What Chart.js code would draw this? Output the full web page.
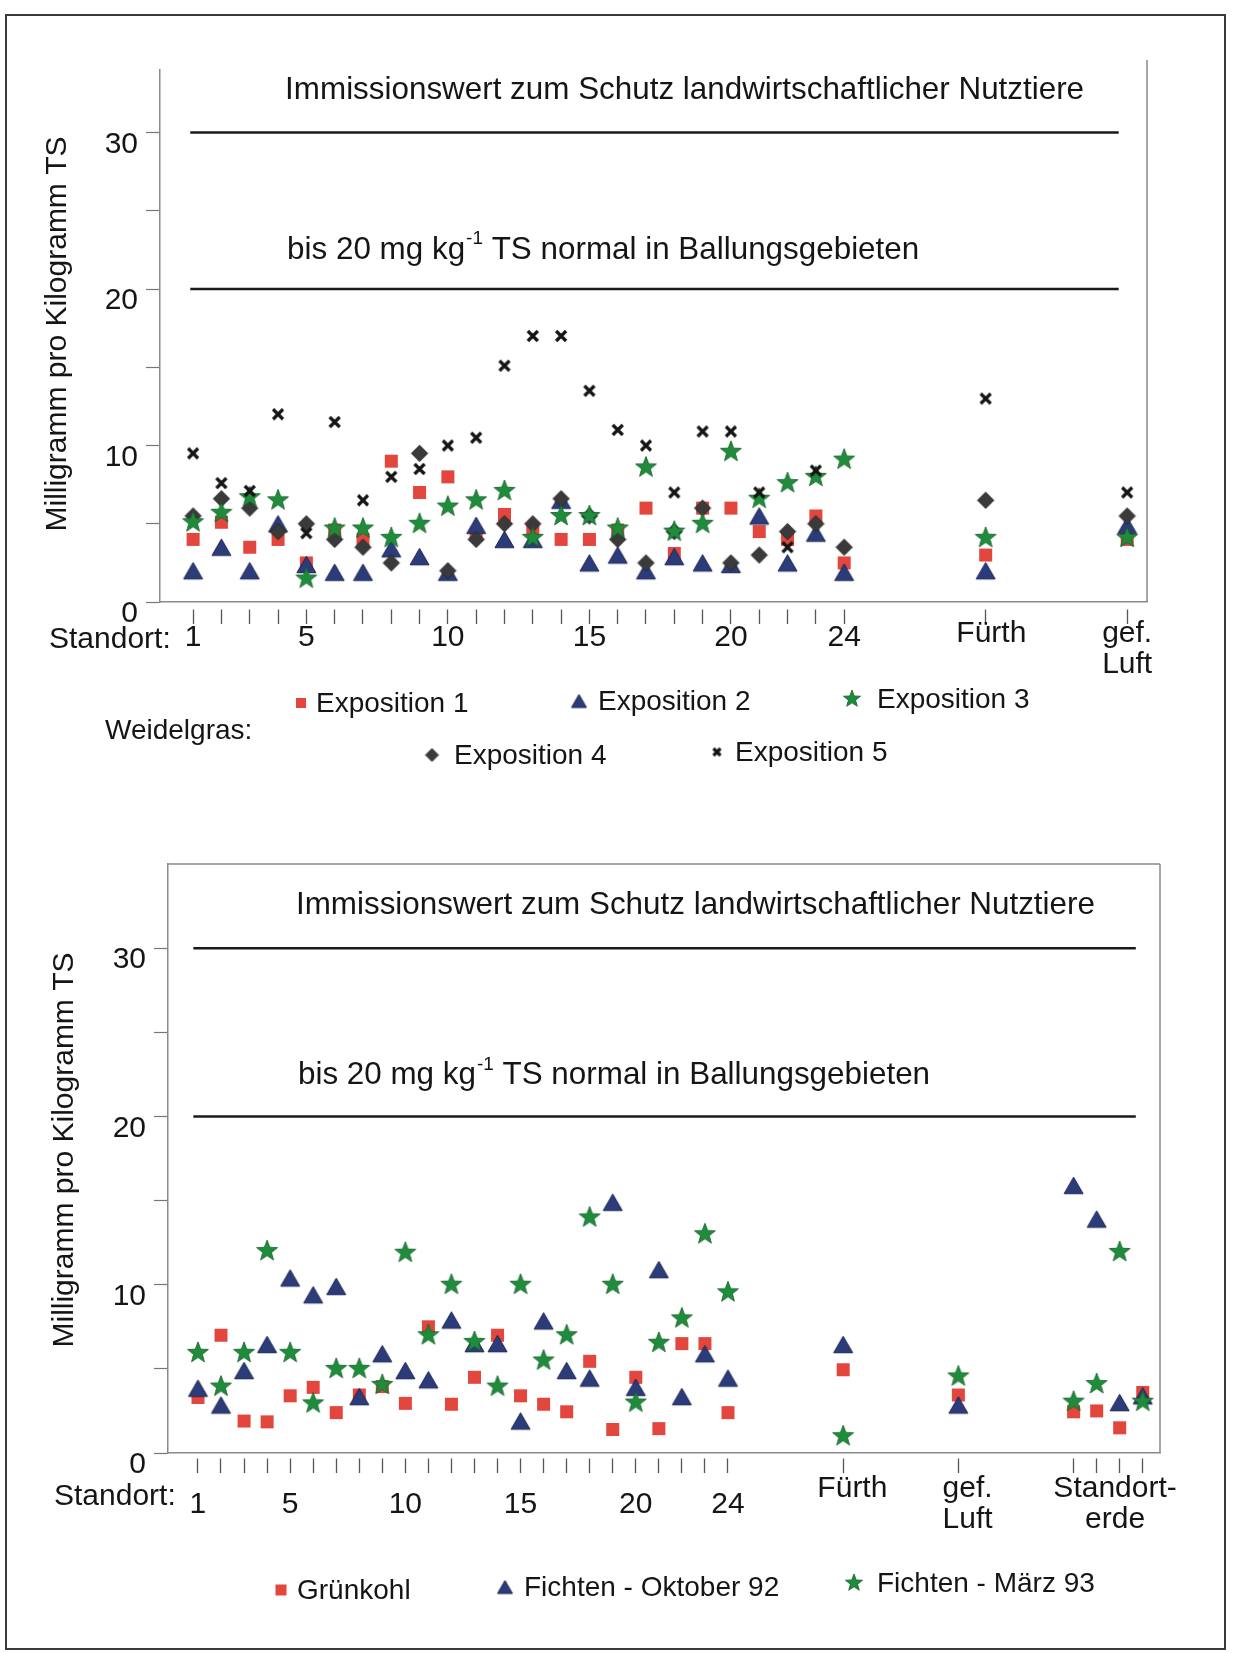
<!DOCTYPE html>
<html lang="de">
<head>
  <meta charset="UTF-8">
  <title>Weidelgras, Grünkohl und Fichten</title>
  <script src="https://cdn.jsdelivr.net/npm/chart.js"></script>
  <style>
    html, body { margin: 0; padding: 0; background: #fff; }
    body { width: 1242px; height: 1653px; position: relative; overflow: hidden; }
    .frame { position: absolute; left: 5px; top: 14px; width: 1221px; height: 1636px; border: 2px solid #3a3a3a; box-sizing: border-box; }
    .box { position: absolute; left: 0; width: 1242px; }
    #topBox { top: 0; height: 800px; }
    #bottomBox { top: 800px; height: 853px; }
  </style>
</head>
<body>
  <div class="frame"></div>
  <div class="box" id="topBox"><canvas id="weidelgrasChart" width="1242" height="800"></canvas></div>
  <div class="box" id="bottomBox"><canvas id="fichtenChart" width="1242" height="853"></canvas></div>
  <script>
    const FONT = '"Liberation Sans", Arial, Helvetica, sans-serif';
    Chart.defaults.font.family = FONT;
    Chart.defaults.color = '#1a1a1a';

    // Weidelgras (oben): Standorte 1-24, Fürth = 29, gef. Luft = 34
    const weidelStandorte = [1, 2, 3, 4, 5, 6, 7, 8, 9, 10, 11, 12, 13, 14, 15, 16, 17, 18, 19, 20, 21, 22, 23, 24, 29, 34];
    const exposition1 = [4.0, 5.1, 3.5, 4.0, 2.5, 4.6, 4.0, 9.0, 7.0, 8.0, 4.3, 5.6, 4.6, 4.0, 4.0, 4.6, 6.0, 3.1, 6.0, 6.0, 4.5, 4.0, 5.5, 2.5, 3.0, 4.0];
    const exposition2 = [2.0, 3.5, 2.0, 5.0, 2.4, 1.9, 1.9, 3.4, 2.9, 1.9, 4.9, 4.0, 4.0, 6.5, 2.5, 3.0, 2.0, 2.9, 2.5, 2.4, 5.5, 2.5, 4.4, 1.9, 2.0, 4.9];
    const exposition3 = [5.1, 5.7, 6.7, 6.5, 1.5, 4.7, 4.7, 4.1, 5.0, 6.1, 6.5, 7.1, 4.1, 5.5, 5.5, 4.7, 8.6, 4.5, 5.0, 9.6, 6.6, 7.6, 8.0, 9.1, 4.1, 4.1];
    const exposition4 = [5.5, 6.6, 6.0, 4.5, 5.0, 4.0, 3.5, 2.5, 9.5, 2.0, 4.0, 5.0, 5.0, 6.6, 5.5, 4.0, 2.5, 4.5, 6.0, 2.5, 3.0, 4.5, 5.0, 3.5, 6.5, 5.5];
    const exposition5 = [9.5, 7.6, 7.1, 12.0, 4.4, 11.5, 6.5, 8.0, 8.5, 10.0, 10.5, 15.1, 17.0, 17.0, 13.5, 11.0, 10.0, 7.0, 10.9, 10.9, 7.0, 3.5, 8.4, null, 13.0, 7.0];

    // Grünkohl / Fichten (unten): Fürth = 29, gef. Luft = 34, Standorterde = 39-42
    const fichtenStandorte = [1, 2, 3, 4, 5, 6, 7, 8, 9, 10, 11, 12, 13, 14, 15, 16, 17, 18, 19, 20, 21, 22, 23, 24, 29, 34, 39, 40, 41, 42];
    const gruenkohl = [3.3, 7.0, 1.9, 1.85, 3.4, 3.9, 2.4, 3.45, 3.95, 2.95, 7.5, 2.9, 4.5, 7.0, 3.4, 2.9, 2.45, 5.45, 1.4, 4.5, 1.45, 6.5, 6.5, 2.4, 4.95, 3.45, 2.45, 2.5, 1.5, 3.6];
    const fichtenOkt92 = [3.85, 2.85, 4.9, 6.45, 10.4, 9.4, 9.9, 3.35, 5.9, 4.9, 4.35, 7.9, 6.5, 6.5, 1.9, 7.85, 4.9, 4.45, 14.9, 3.9, 10.9, 3.35, 5.9, 4.45, 6.45, 2.85, 15.9, 13.9, 3.0, 3.4];
    const fichtenMaerz93 = [5.95, 3.95, 5.95, 12.0, 5.95, 2.95, 5.0, 5.0, 4.05, 11.9, 7.0, 10.0, 6.6, 3.95, 10.0, 5.5, 7.0, 14.0, 10.0, 3.0, 6.55, 8.0, 13.0, 9.55, 1.0, 4.55, 3.05, 4.1, 11.95, 3.05];

    // Achsen
    const yTicks = [0, 5, 10, 15, 20, 25, 30];
    const weidelLabelPos = [1, 5, 10, 15, 20, 24, 29.2, 34];
    const weidelLabelText = ['1', '5', '10', '15', '20', '24', 'Fürth', 'gef.\nLuft'];
    const fichtenTickPos = [1, 2, 3, 4, 5, 6, 7, 8, 9, 10, 11, 12, 13, 14, 15, 16, 17, 18, 19, 20, 21, 22, 23, 24, 29, 34, 39, 40, 41, 42];
    const fichtenLabelPos = [1, 5, 10, 15, 20, 24, 29.4, 34.4, 40.8];
    const fichtenLabelText = ['1', '5', '10', '15', '20', '24', 'Fürth', 'gef.\nLuft', 'Standort-\nerde'];

    // Richtwerte
    const grenzwerte = [30, 20];
    const weidelLinie = [0.9, 33.7];
    const fichtenLinie = [0.8, 41.7];

    const RED = '#e2463c', NAVY = '#2c3c7a', GREEN = '#1f8c3b', GREY = '#3a3a3a', BLACK = '#141414';

    function marker(kind, s) {
      const n = Math.ceil(s) + 6;
      const c = document.createElement('canvas');
      c.width = n; c.height = n;
      const g = c.getContext('2d');
      const m = n / 2;
      g.beginPath();
      if (kind === 'square') {
        g.fillStyle = RED;
        g.fillRect(m - s / 2, m - s / 2, s, s);
      } else if (kind === 'triangle') {
        const h = s * 0.87;
        g.moveTo(m, m - h / 2); g.lineTo(m + s / 2, m + h / 2); g.lineTo(m - s / 2, m + h / 2); g.closePath();
        g.fillStyle = NAVY; g.fill();
        g.strokeStyle = '#1b2452'; g.lineWidth = 1; g.stroke();
      } else if (kind === 'star') {
        for (let k = 0; k < 10; k++) {
          const r = k % 2 ? s * 0.21 : s / 2;
          const a = -Math.PI / 2 + k * Math.PI / 5;
          g.lineTo(m + r * Math.cos(a), m + r * Math.sin(a));
        }
        g.closePath();
        g.fillStyle = GREEN; g.fill();
        g.strokeStyle = '#135f27'; g.lineWidth = 0.8; g.stroke();
      } else if (kind === 'diamond') {
        g.moveTo(m, m - s / 2); g.lineTo(m + s / 2, m); g.lineTo(m, m + s / 2); g.lineTo(m - s / 2, m); g.closePath();
        g.fillStyle = GREY; g.fill();
        g.strokeStyle = '#222'; g.lineWidth = 0.8; g.stroke();
      } else if (kind === 'cross') {
        const d = s / 2;
        g.moveTo(m - d, m - d); g.lineTo(m + d, m + d);
        g.moveTo(m + d, m - d); g.lineTo(m - d, m + d);
        g.strokeStyle = BLACK; g.lineWidth = 3.2; g.stroke();
      }
      return c;
    }

    const pts = (xs, ys) => xs.map((x, i) => ({ x: x, y: ys[i] })).filter(p => p.y !== null);

    function scatterSet(label, xs, ys, icon, order) {
      return { label: label, data: pts(xs, ys), pointStyle: icon, pointRadius: 8, order: order };
    }

    function lineSet(range, value) {
      return {
        type: 'line', label: 'Richtwert ' + value, showLine: true,
        data: [{ x: range[0], y: value }, { x: range[1], y: value }],
        borderColor: '#1a1a1a', borderWidth: 2.5, pointRadius: 0, order: 10
      };
    }

    function drawLabelText(ctx, xs, ys, dx, dy) {
      ctx.font = '31.4px ' + FONT;
      ctx.fillText('Immissionswert zum Schutz landwirtschaftlicher Nutztiere',
        xs.getPixelForValue(1) + dx[0], ys.getPixelForValue(grenzwerte[0]) + dy[0]);
      const x0 = xs.getPixelForValue(1) + dx[1];
      const y0 = ys.getPixelForValue(grenzwerte[1]) + dy[1];
      const a = 'bis 20 mg kg', b = '-1', c = ' TS normal in Ballungsgebieten';
      ctx.fillText(a, x0, y0);
      let w = ctx.measureText(a).width;
      ctx.font = '19px ' + FONT;
      ctx.fillText(b, x0 + w + 1, y0 - 11);
      w += ctx.measureText(b).width + 1;
      ctx.font = '31.4px ' + FONT;
      ctx.fillText(c, x0 + w, y0);
    }

    function makeDecor(cfg) {
      return {
        id: 'decor',
        afterDraw(chart) {
          const ctx = chart.ctx, a = chart.chartArea;
          const xs = chart.scales.x, ys = chart.scales.y;
          ctx.save();
          ctx.strokeStyle = '#8a8a8a';
          ctx.lineWidth = 1.5;
          ctx.beginPath();
          ctx.moveTo(a.right, a.top - cfg.rightOver);
          ctx.lineTo(a.right, a.bottom);
          if (cfg.topBorder) { ctx.moveTo(a.left, a.top); ctx.lineTo(a.right, a.top); }
          ctx.stroke();

          ctx.fillStyle = '#151515';
          ctx.textBaseline = 'middle';
          ctx.textAlign = 'left';
          drawLabelText(ctx, xs, ys, cfg.textDx, cfg.textDy);

          // x-Beschriftung
          ctx.font = '30px ' + FONT;
          ctx.textAlign = 'center';
          cfg.labelPos.forEach((v, i) => {
            const lines = cfg.labelText[i].split('\n');
            const numeric = /^\d+$/.test(lines[0]);
            const y0 = a.bottom + (numeric ? cfg.numDy : cfg.nameDy);
            lines.forEach((t, k) => ctx.fillText(t, xs.getPixelForValue(v), y0 + k * 31));
          });
          ctx.textAlign = 'left';
          ctx.fillText('Standort:', cfg.standort[0], cfg.standort[1]);

          // y-Titel
          ctx.save();
          ctx.translate(cfg.yTitle[0], cfg.yTitle[1]);
          ctx.rotate(-Math.PI / 2);
          ctx.font = '30px ' + FONT;
          ctx.textAlign = 'center';
          ctx.fillText('Milligramm pro Kilogramm TS', 0, 0);
          ctx.restore();

          // Legende
          ctx.font = '28px ' + FONT;
          ctx.textAlign = 'left';
          cfg.legend.forEach(item => {
            const ds = chart.data.datasets[item.ds];
            ctx.drawImage(item.icon, item.mx - item.icon.width / 2, item.my - item.icon.height / 2);
            ctx.fillText(ds.label, item.tx, item.my + 1);
          });
          if (cfg.group) ctx.fillText(cfg.group.text, cfg.group.x, cfg.group.y);
          ctx.restore();
        }
      };
    }

    function axes(xMin, xMax, yMax, tickPos, xHeight, dash) {
      return {
        x: {
          type: 'linear', min: xMin, max: xMax,
          afterBuildTicks: s => { s.ticks = tickPos.map(v => ({ value: v })); },
          afterFit: s => { s.height = xHeight; },
          ticks: { display: false },
          grid: { drawOnChartArea: false, drawTicks: true, tickLength: dash[0] + dash[1], tickBorderDash: [0, dash[0], dash[1], 60], tickColor: '#555', tickWidth: 1.3 },
          border: { color: '#8a8a8a', width: 1.5 }
        },
        y: {
          min: 0, max: yMax,
          afterBuildTicks: s => { s.ticks = yTicks.map(v => ({ value: v })); },
          afterFit: s => { s.width = s.chart.options.layout.padding.yWidth; },
          ticks: { callback: v => (v % 10 === 0 ? String(v) : ''), font: { size: 30 }, color: '#151515', padding: 8, labelOffset: 12, autoSkip: false },
          grid: { drawOnChartArea: false, tickLength: 14, tickColor: '#777', tickWidth: 1.2 },
          border: { color: '#8a8a8a', width: 1.5 }
        }
      };
    }

    // Oberes Diagramm: Weidelgras
    const iconsTop = {
      sq: marker('square', 13), tri: marker('triangle', 19), star: marker('star', 22), dia: marker('diamond', 16.5), x: marker('cross', 10)
    };
    const legTop = {
      sq: marker('square', 10), tri: marker('triangle', 15), star: marker('star', 18), dia: marker('diamond', 13), x: marker('cross', 7)
    };
    new Chart(document.getElementById('weidelgrasChart'), {
      type: 'scatter',
      data: {
        datasets: [
          scatterSet('Exposition 1', weidelStandorte, exposition1, iconsTop.sq, 5),
          scatterSet('Exposition 2', weidelStandorte, exposition2, iconsTop.tri, 4),
          scatterSet('Exposition 3', weidelStandorte, exposition3, iconsTop.star, 2),
          scatterSet('Exposition 4', weidelStandorte, exposition4, iconsTop.dia, 3),
          scatterSet('Exposition 5', weidelStandorte, exposition5, iconsTop.x, 1),
          lineSet(weidelLinie, grenzwerte[0]),
          lineSet(weidelLinie, grenzwerte[1])
        ]
      },
      options: {
        responsive: false, animation: false,
        layout: { padding: { left: 0, right: 95, top: 70, bottom: 0, yWidth: 160 } },
        plugins: { legend: { display: false }, tooltip: { enabled: false } },
        scales: axes(-0.17, 34.7, 34, weidelStandorte, 198, [7, 15])
      },
      plugins: [makeDecor({
        rightOver: 10, topBorder: false,
        textDx: [92, 94], textDy: [-42, -39],
        labelPos: weidelLabelPos, labelText: weidelLabelText, numDy: 36, nameDy: 32,
        standort: [49, 640], yTitle: [58, 334],
        legend: [
          { ds: 0, icon: legTop.sq, mx: 301, my: 703, tx: 316 },
          { ds: 1, icon: legTop.tri, mx: 579, my: 701, tx: 598 },
          { ds: 2, icon: legTop.star, mx: 852, my: 699, tx: 877 },
          { ds: 3, icon: legTop.dia, mx: 432, my: 755, tx: 454 },
          { ds: 4, icon: legTop.x, mx: 717, my: 752, tx: 735 }
        ],
        group: { text: 'Weidelgras:', x: 105, y: 731 }
      })]
    });

    // Unteres Diagramm: Grünkohl und Fichten
    const iconsBot = { sq: marker('square', 13), tri: marker('triangle', 19), star: marker('star', 22) };
    const legBot = { sq: marker('square', 11), tri: marker('triangle', 15), star: marker('star', 18) };
    new Chart(document.getElementById('fichtenChart'), {
      type: 'scatter',
      data: {
        datasets: [
          scatterSet('Grünkohl', fichtenStandorte, gruenkohl, iconsBot.sq, 5),
          scatterSet('Fichten - Oktober 92', fichtenStandorte, fichtenOkt92, iconsBot.tri, 4),
          scatterSet('Fichten - März 93', fichtenStandorte, fichtenMaerz93, iconsBot.star, 3),
          lineSet(fichtenLinie, grenzwerte[0]),
          lineSet(fichtenLinie, grenzwerte[1])
        ]
      },
      options: {
        responsive: false, animation: false,
        layout: { padding: { left: 0, right: 82, top: 64, bottom: 0, yWidth: 168 } },
        plugins: { legend: { display: false }, tooltip: { enabled: false } },
        scales: axes(-0.3, 42.75, 35, fichtenTickPos, 200, [5, 15])
      },
      plugins: [makeDecor({
        rightOver: 0, topBorder: true,
        textDx: [98, 100], textDy: [-43, -41],
        labelPos: fichtenLabelPos, labelText: fichtenLabelText, numDy: 52, nameDy: 36,
        standort: [54, 697], yTitle: [65, 350],
        legend: [
          { ds: 0, icon: legBot.sq, mx: 281, my: 790, tx: 297 },
          { ds: 1, icon: legBot.tri, mx: 505, my: 787, tx: 524 },
          { ds: 2, icon: legBot.star, mx: 854, my: 783, tx: 877 }
        ],
        group: null
      })]
    });
  </script>
</body>
</html>
